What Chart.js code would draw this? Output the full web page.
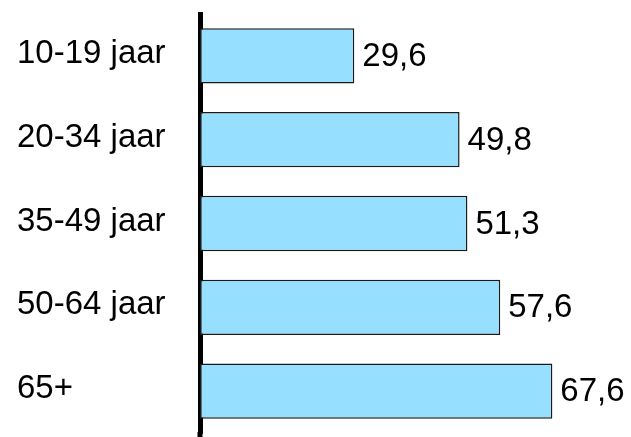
<!DOCTYPE html>
<html>
<head>
<meta charset="utf-8">
<script src="https://cdn.jsdelivr.net/npm/chart.js@4/dist/chart.umd.min.js"></script>
<style>
  html, body { margin: 0; padding: 0; background: #fff; }
  #wrap { width: 631px; height: 437px; position: relative; }
</style>
</head>
<body>
<div id="wrap"><canvas id="ageChart"></canvas></div>
<script>
const categories = ['10-19 jaar', '20-34 jaar', '35-49 jaar', '50-64 jaar', '65+'];
const values = [29.6, 49.8, 51.3, 57.6, 67.6];

const FONT = 'Arial, "Liberation Sans", sans-serif';

function formatValue(v) {
  return v.toFixed(1).replace('.', ',');
}

// draws the numbers just right of each bar
const valueLabels = {
  id: 'valueLabels',
  afterDatasetsDraw(chart) {
    const { ctx } = chart;
    const meta = chart.getDatasetMeta(0);
    ctx.save();
    ctx.font = `33px ${FONT}`;
    ctx.fillStyle = '#000';
    ctx.textAlign = 'left';
    ctx.textBaseline = 'middle';
    meta.data.forEach((bar, i) => {
      ctx.fillText(formatValue(values[i]), bar.x + 8, bar.y + 1);
    });
    ctx.restore();
  },
};

// the vertical axis line runs on to the bottom edge
const axisTail = {
  id: 'axisTail',
  afterDraw(chart) {
    const { ctx, chartArea } = chart;
    ctx.save();
    ctx.strokeStyle = '#000';
    ctx.lineWidth = 5;
    ctx.beginPath();
    ctx.moveTo(chartArea.left, chartArea.bottom - 1);
    ctx.lineTo(chartArea.left, chart.height);
    ctx.stroke();
    ctx.restore();
  },
};

new Chart(document.getElementById('ageChart'), {
  type: 'bar',
  data: {
    labels: categories,
    datasets: [
      {
        data: values,
        backgroundColor: '#97dffe',
        borderColor: '#1a1a1a',
        borderWidth: 1.5,
        borderSkipped: false,
        categoryPercentage: 1,
        barPercentage: 0.66,
      },
    ],
  },
  options: {
    indexAxis: 'y',
    responsive: true,
    maintainAspectRatio: false,
    animation: false,
    layout: { padding: { left: 17, right: 14, top: 14, bottom: 4 } },
    scales: {
      x: {
        display: false,
        min: 0,
        max: 80,
      },
      y: {
        afterFit(scale) {
          scale.width = 183;
          scale.paddingTop = 0;
          scale.paddingBottom = 0;
        },
        grid: { display: false, drawTicks: false },
        border: { display: true, color: '#000', width: 5 },
        ticks: {
          crossAlign: 'far',
          color: '#000',
          padding: 0,
          // empty second line lifts the text a few px above the bar centre
          callback(value) {
            return [this.getLabelForValue(value), ''];
          },
          font: { family: FONT, size: 33, lineHeight: '4px' },
        },
      },
    },
    plugins: {
      legend: { display: false },
      tooltip: { enabled: false },
    },
  },
  plugins: [valueLabels, axisTail],
});
</script>
</body>
</html>
